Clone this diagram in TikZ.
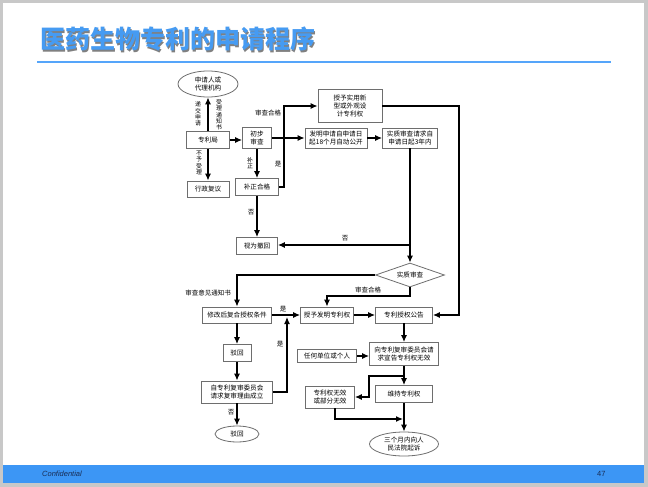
\documentclass[tikz,border=0pt]{standalone}
\usepackage{fontspec}
\usepackage{tikz}
\usetikzlibrary{arrows.meta,shapes.geometric,calc}
\setmainfont{Liberation Sans}
\newfontfamily\cjk{Noto Sans CJK SC}
\definecolor{slide_blue}{RGB}{60,150,245}
\definecolor{title_blue}{RGB}{70,155,242}
\definecolor{rule_blue}{RGB}{85,165,250}
\definecolor{box_gray}{RGB}{110,110,110}
\definecolor{frame_gray}{RGB}{200,200,200}
\definecolor{foot_text}{RGB}{25,45,85}
\tikzstyle{bx}=[rectangle,draw=box_gray,fill=white,line width=0.8pt,
  inner sep=1pt,align=center,font=\cjk\fontsize{6.6}{8}\selectfont]
\tikzstyle{el}=[ellipse,draw=box_gray,fill=white,line width=0.8pt,
  inner sep=0pt,align=center,font=\cjk\fontsize{6.6}{8}\selectfont]
\tikzstyle{dm}=[diamond,draw=box_gray,fill=white,line width=0.8pt,
  inner sep=0pt,aspect=2.8,font=\cjk\fontsize{6.6}{8}\selectfont]
\tikzstyle{lb}=[inner sep=0pt,align=center,font=\cjk\fontsize{6.5}{7}\selectfont]
\tikzstyle{vl}=[inner sep=0pt,align=center,font=\cjk\fontsize{5.9}{6.3}\selectfont]
\tikzstyle{ln}=[line width=1.2pt,-{Latex[length=7pt,width=6pt]}]
\tikzstyle{none}=[]

\begin{document}
\begin{tikzpicture}[x=1pt, y=-1pt]
            \useasboundingbox (0,0) rectangle (648,487);
            \fill [frame_gray] (0,0) rectangle (648,487);
            \fill [white] (3,3) rectangle (644,483);
            \fill [slide_blue] (3,465) rectangle (644,483);
            \draw [rule_blue, line width=2pt] (37,62) -- (611,62);
            \node [anchor=west, inner sep=0pt, text=black!50, font=\cjk\bfseries\fontsize{25}{28}\selectfont] (t0) at (41.5,40.5) {医药生物专利的申请程序};
            \node [anchor=west, inner sep=0pt, text=title_blue, font=\cjk\bfseries\fontsize{25}{28}\selectfont] (t1) at (40,39) {医药生物专利的申请程序};
            \node [anchor=west, inner sep=0pt, text=foot_text, font=\itshape\fontsize{7.5}{9}\selectfont] (f0) at (42,474) {Confidential};
            \node [anchor=west, inner sep=0pt, text=foot_text, font=\fontsize{7.5}{9}\selectfont] (f1) at (597,474) {47};

            \node [style=el, minimum width=60pt, minimum height=26pt] (0) at (208,84) {申请人或\\代理机构};
            \node [style=bx, minimum width=43pt, minimum height=17pt] (1) at (208,140) {专利局};
            \node [style=bx, minimum width=42pt, minimum height=16pt] (2) at (208,189) {行政复议};
            \node [style=bx, minimum width=29pt, minimum height=21pt] (3) at (257,138) {初步\\审查};
            \node [style=bx, minimum width=43pt, minimum height=17pt] (4) at (257,187) {补正合格};
            \node [style=bx, minimum width=41pt, minimum height=17pt] (5) at (257,246) {视为撤回};
            \node [style=bx, minimum width=64pt, minimum height=33pt] (6) at (350,106) {授予实用新\\型或外观设\\计专利权};
            \node [style=bx, minimum width=62pt, minimum height=20pt] (7) at (336,138) {发明申请自申请日\\起18个月自动公开};
            \node [style=bx, minimum width=55pt, minimum height=20pt] (8) at (410,138) {实质审查请求自\\申请日起3年内};
            \node [style=dm, minimum width=69pt, minimum height=24pt] (9) at (410,275) {实质审查};
            \node [style=bx, minimum width=69pt, minimum height=16pt] (10) at (237,315) {修改后复合授权条件};
            \node [style=bx, minimum width=28pt, minimum height=17pt] (11) at (237,353) {驳回};
            \node [style=bx, minimum width=71pt, minimum height=22pt] (12) at (237,392) {自专利复审委员会\\请求复审理由成立};
            \node [style=el, minimum width=44pt, minimum height=16pt] (13) at (237,434) {驳回};
            \node [style=bx, minimum width=53pt, minimum height=16pt] (14) at (327,315) {授予发明专利权};
            \node [style=bx, minimum width=57pt, minimum height=16pt] (15) at (404,315) {专利授权公告};
            \node [style=bx, minimum width=69pt, minimum height=23pt] (16) at (404,354) {向专利复审委员会请\\求宣告专利权无效};
            \node [style=bx, minimum width=59pt, minimum height=13pt] (17) at (327,356) {任何单位或个人};
            \node [style=bx, minimum width=49pt, minimum height=22pt] (18) at (330,397) {专利权无效\\或部分无效};
            \node [style=bx, minimum width=57pt, minimum height=17pt] (19) at (404,394) {维持专利权};
            \node [style=el, minimum width=69pt, minimum height=24pt] (20) at (404,444) {三个月内向人\\民法院起诉};

            \node [style=none] (21) at (284,106) {};
            \node [style=none] (22) at (459,315) {};
            \node [style=none] (23) at (410,245) {};
            \node [style=none] (24) at (410,296) {};
            \node [style=none] (25) at (287,317) {};
            \node [style=none] (26) at (404,376) {};
            \node [style=none] (27) at (369,397) {};
            \node [style=none] (28) at (335,419) {};
            \node [style=none] (29) at (403,419) {};

            \node [style=vl] (30) at (198,114) {递\\交\\申\\请};
            \node [style=vl] (31) at (219,115) {受\\理\\通\\知\\书};
            \node [style=vl] (32) at (199,163) {不\\予\\受\\理};
            \node [style=vl] (33) at (250,163) {补\\正};
            \node [style=lb] (34) at (268,113) {审查合格};
            \node [style=lb] (35) at (278,164) {是};
            \node [style=lb] (36) at (251,212) {否};
            \node [style=lb] (37) at (345,238) {否};
            \node [style=lb] (38) at (208,293) {审查意见通知书};
            \node [style=lb] (39) at (368,290) {审查合格};
            \node [style=lb] (40) at (283,309) {是};
            \node [style=lb] (41) at (280,344) {是};
            \node [style=lb] (42) at (231,412) {否};

            \draw [style=ln] (1) to (0);
            \draw [style=ln] (1) to (2);
            \draw [style=ln] (1) to (1 -| 3.west);
            \draw [style=ln] (3) to (4);
            \draw [style=ln] (3) to (7);
            \draw [style=ln] (4) -| (21.center) -- (6);
            \draw [style=ln] (4) to (5);
            \draw [style=ln] (6) -| (22.center) -- (15);
            \draw [style=ln] (7) to (8);
            \draw [style=ln] (8) to (9);
            \draw [style=ln] (23.center) to (23 -| 5.east);
            \draw [style=ln] (9) -| (10);
            \draw [style=ln] (9) -- (24.center) -| (14);
            \draw [style=ln] (10) to (14);
            \draw [style=ln] (10) to (11);
            \draw [style=ln] (11) to (12);
            \draw [style=ln] (12) to (13);
            \draw [style=ln] (12) -| (25.center);
            \draw [style=ln] (14) to (15);
            \draw [style=ln] (15) to (16);
            \draw [style=ln] (17) to (17 -| 16.west);
            \draw [style=ln] (16) to (19);
            \draw [style=ln] (26.center) -| (27.center) -- (18);
            \draw [style=ln] (18.south -| 28) -- (28.center) -- (29.center);
            \draw [style=ln] (19) to (20);
    \end{tikzpicture}
\end{document}
